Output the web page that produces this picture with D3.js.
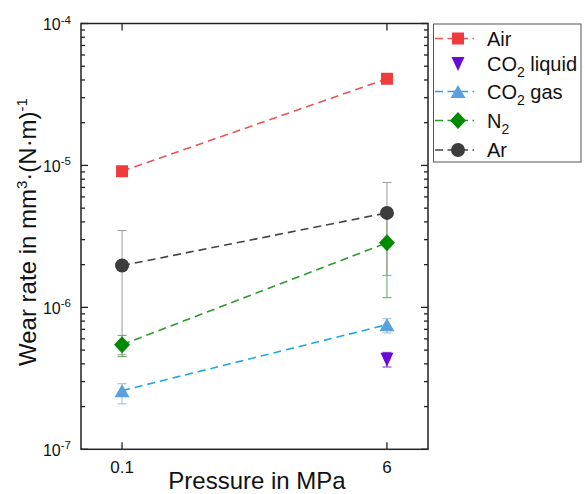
<!DOCTYPE html>
<html>
<head>
<meta charset="utf-8">
<script src="https://cdn.jsdelivr.net/npm/d3@7"></script>
<style>
  html, body { margin: 0; padding: 0; background: #fff; }
  svg { display: block; font-family: "Liberation Sans", Arial, sans-serif; }
</style>
</head>
<body>
<svg id="chart" width="585" height="494"></svg>
<script>
// Wear rate of the sample at two pressures in different atmospheres
const pressures = ["0.1", "6"];

const airRate       = [9.1e-6, 4.08e-5];
const co2LiquidRate = [null, 4.27e-7];
const co2LiquidLow  = [null, 3.80e-7];
const co2LiquidHigh = [null, 4.82e-7];
const co2GasRate    = [2.59e-7, 7.55e-7];
const co2GasLow     = [2.09e-7, 6.60e-7];
const co2GasHigh    = [2.90e-7, 8.31e-7];
const n2Rate        = [5.46e-7, 2.85e-6];
const n2Low         = [4.50e-7, 1.17e-6];
const n2High        = [6.35e-7, 4.63e-6];
const arRate        = [1.97e-6, 4.63e-6];
const arLow         = [4.64e-7, 1.68e-6];
const arHigh        = [3.48e-6, 7.59e-6];

const decadeExponents = [-7, -6, -5, -4];

const series = [
  { name: "Air",  sub: "",  rest: "", values: airRate, low: null, high: null,
    line: "#e85555", fill: "#ef3b3b", err: "#ef3b3b", shape: "square", connect: true },
  { name: "CO", sub: "2", rest: " liquid", values: co2LiquidRate, low: co2LiquidLow, high: co2LiquidHigh,
    line: null, fill: "#6a0ad6", err: "#7a30d8", shape: "triDown", connect: false },
  { name: "CO", sub: "2", rest: " gas", values: co2GasRate, low: co2GasLow, high: co2GasHigh,
    line: "#1ea6ea", fill: "#5aa0dc", err: "#8cbfe8", shape: "triUp", connect: true },
  { name: "N",  sub: "2", rest: "", values: n2Rate, low: n2Low, high: n2High,
    line: "#2a9a2a", fill: "#008a00", err: "#5aa85a", shape: "diamond", connect: true },
  { name: "Ar", sub: "",  rest: "", values: arRate, low: arLow, high: arHigh,
    line: "#444444", fill: "#3c3c3c", err: "#9a9a9a", shape: "circle", connect: true }
];

const svg = d3.select("#chart");
const plot = { left: 81, right: 428, top: 23.5, bottom: 449.3 };

const x = d3.scalePoint().domain(pressures).range([plot.left, plot.right]).padding(0.155);
const y = d3.scaleLog().domain([1e-7, 1e-4]).range([plot.bottom, plot.top]);

function shapePath(shape) {
  switch (shape) {
    case "square":  return "M-6,-6H6V6H-6Z";
    case "circle":  return d3.symbol(d3.symbolCircle, Math.PI * 49)();
    case "diamond": return "M0,-8.5L8,0L0,8.5L-8,0Z";
    case "triUp":   return "M0,-6.5L7.5,6.5L-7.5,6.5Z";
    case "triDown": return "M-6.5,-7L6.5,-7L0,7Z";
  }
}

// axis ticks (inward on all four sides)
const g = svg.append("g");
const allTicks = y.ticks();
allTicks.forEach(t => {
  const major = Math.abs(Math.log10(t) - Math.round(Math.log10(t))) < 1e-9;
  const len = major ? 7 : 4;
  const yy = y(t);
  g.append("line").attr("x1", plot.left).attr("x2", plot.left + len)
    .attr("y1", yy).attr("y2", yy).attr("stroke", "#222").attr("stroke-width", 1.3);
  g.append("line").attr("x1", plot.right).attr("x2", plot.right - len)
    .attr("y1", yy).attr("y2", yy).attr("stroke", "#222").attr("stroke-width", 1.3);
});
pressures.forEach(p => {
  const xx = x(p);
  g.append("line").attr("x1", xx).attr("x2", xx).attr("y1", plot.bottom).attr("y2", plot.bottom - 7)
    .attr("stroke", "#222").attr("stroke-width", 1.3);
  g.append("line").attr("x1", xx).attr("x2", xx).attr("y1", plot.top).attr("y2", plot.top + 7)
    .attr("stroke", "#222").attr("stroke-width", 1.3);
  g.append("text").attr("x", xx).attr("y", 473).attr("text-anchor", "middle")
    .attr("font-size", 17).attr("fill", "#111").text(p);
});

// decade labels
decadeExponents.forEach(e => {
  const t = g.append("text").attr("x", 71).attr("y", y(Math.pow(10, e)) + 6.5)
    .attr("text-anchor", "end").attr("font-size", 16).attr("fill", "#111");
  t.append("tspan").text("10");
  t.append("tspan").attr("dy", -6.5).attr("font-size", 11.5).text("-" + Math.abs(e));
});

// frame
svg.append("rect").attr("x", plot.left).attr("y", plot.top)
  .attr("width", plot.right - plot.left).attr("height", plot.bottom - plot.top)
  .attr("fill", "none").attr("stroke", "#222").attr("stroke-width", 1.5);

// error bars
const errG = svg.append("g");
series.forEach(s => {
  if (!s.low) return;
  pressures.forEach((p, i) => {
    if (s.values[i] == null) return;
    const xx = x(p), y1 = y(s.low[i]), y2 = y(s.high[i]);
    errG.append("line").attr("x1", xx).attr("x2", xx).attr("y1", y1).attr("y2", y2)
      .attr("stroke", s.err).attr("stroke-width", 1);
    [y1, y2].forEach(yy => errG.append("line").attr("x1", xx - 4.5).attr("x2", xx + 4.5)
      .attr("y1", yy).attr("y2", yy).attr("stroke", s.err).attr("stroke-width", 1));
  });
});

// dashed connecting lines
const lineGen = d3.line().defined(d => d.v != null).x(d => x(d.p)).y(d => y(d.v));
series.filter(s => s.connect).forEach(s => {
  svg.append("path")
    .datum(pressures.map((p, i) => ({ p, v: s.values[i] })))
    .attr("d", lineGen).attr("fill", "none")
    .attr("stroke", s.line).attr("stroke-width", 1.6).attr("stroke-dasharray", "8,5");
});

// markers
series.forEach(s => {
  pressures.forEach((p, i) => {
    if (s.values[i] == null) return;
    svg.append("path").attr("d", shapePath(s.shape))
      .attr("transform", `translate(${x(p)},${y(s.values[i])})`)
      .attr("fill", s.fill);
  });
});

// axis titles
svg.append("text").attr("x", 257).attr("y", 489).attr("text-anchor", "middle")
  .attr("font-size", 24).attr("fill", "#111").text("Pressure in MPa");

const yTitle = svg.append("text").attr("transform", "translate(36,232) rotate(-90)")
  .attr("text-anchor", "middle").attr("font-size", 24).attr("fill", "#111");
yTitle.append("tspan").text("Wear rate in mm");
yTitle.append("tspan").attr("dy", -9).attr("font-size", 15).text("3");
yTitle.append("tspan").attr("dy", 9).text("·(N·m)");
yTitle.append("tspan").attr("dy", -9).attr("font-size", 15).text("-1");

// legend
const legendRows = [38.5, 64, 91.5, 120.5, 150];
const leg = svg.append("g");
leg.append("rect").attr("x", 433.5).attr("y", 24).attr("width", 147.5).attr("height", 138)
  .attr("fill", "#fff").attr("stroke", "#555").attr("stroke-width", 1);
series.forEach((s, i) => {
  const ly = legendRows[i];
  if (s.connect) {
    leg.append("line").attr("x1", 435).attr("x2", 474).attr("y1", ly).attr("y2", ly)
      .attr("stroke", s.line).attr("stroke-width", 1.6).attr("stroke-dasharray", "8,4.5");
  }
  leg.append("path").attr("d", shapePath(s.shape))
    .attr("transform", `translate(458,${ly})`).attr("fill", s.fill);
  const t = leg.append("text").attr("x", 487).attr("y", ly + 7).attr("font-size", 20).attr("fill", "#111");
  t.append("tspan").text(s.name);
  if (s.sub) {
    t.append("tspan").attr("dy", 6).attr("font-size", 14).text(s.sub);
    t.append("tspan").attr("dy", -6).text(s.rest);
  }
});
</script>
</body>
</html>
